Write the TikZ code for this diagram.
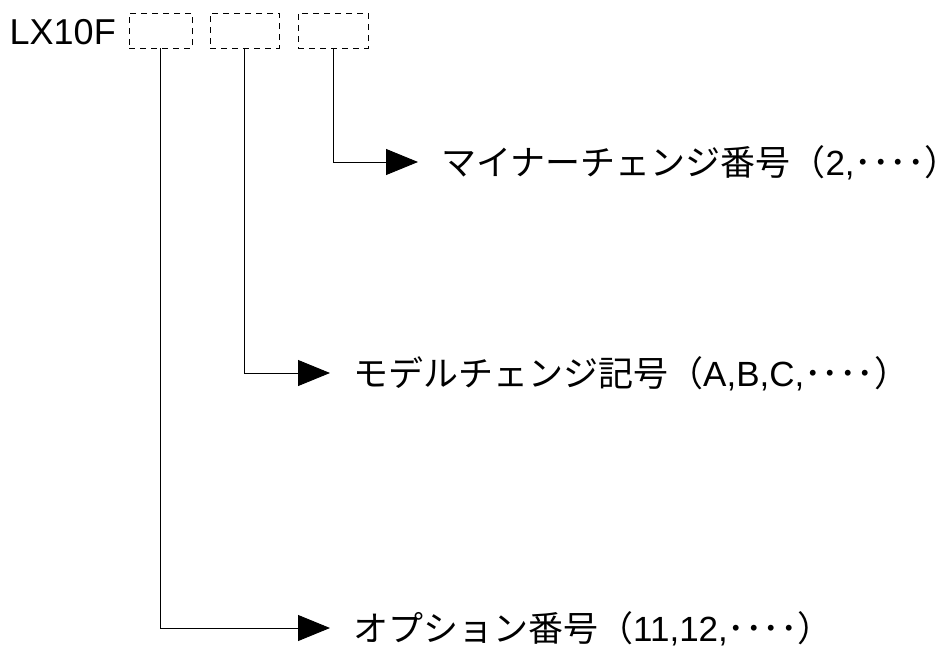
\documentclass[tikz,border=0pt]{standalone}
\usepackage{fontspec}
\setmainfont{Liberation Sans}
\newfontfamily\jpfont{Noto Sans CJK JP}
\usepackage{tikz}
\usetikzlibrary{arrows.meta}

\begin{document}
\begin{tikzpicture}[
    x=1pt, y=-1pt,
    digitbox/.style={rectangle, draw, line width=0.8pt, dash pattern=on 6pt off 5pt, minimum width=69pt, minimum height=35pt, inner sep=0pt},
    partno/.style={inner sep=0pt, font=\fontsize{36}{40}\selectfont},
    desc/.style={inner sep=0pt, anchor=west, text height=30.6pt, text depth=4.4pt, font=\fontsize{35}{40}\selectfont},
    arrow/.style={-{Triangle[length=32pt, width=26pt]}, line width=0.9pt, shorten >=23pt}
]
\useasboundingbox (0,0) rectangle (944,648);

% Model name and the three blank digits
\node[partno, anchor=base west] (model) at (9.5,44.3) {LX10F};
\node[digitbox, minimum width=63pt] (optbox) at (160.5,30.5) {};
\node[digitbox] (modelbox) at (244.5,30.5) {};
\node[digitbox, minimum width=70pt] (minorbox) at (333,30.5) {};

% Meaning of each digit (closing paren sits left in its cell, so trim the cell)
\node[desc] (minor) at (441,162) {{\jpfont マイナーチェンジ番号（}2,{\jpfont ････）}\kern-16pt};
\node[desc] (change) at (353,373) {{\jpfont モデルチェンジ記号（}A,B,C,{\jpfont ････）}\kern-16pt};
\node[desc] (option) at (353,628) {{\jpfont オプション番号（}11,12,{\jpfont ････）}\kern-16pt};

% Connectors - down from each box, then right to its text
\draw[arrow] (minorbox.south) |- (minor.west);
\draw[arrow] (modelbox.south) |- (change.west);
\draw[arrow] (optbox.south) |- (option.west);

\end{tikzpicture}
\end{document}
